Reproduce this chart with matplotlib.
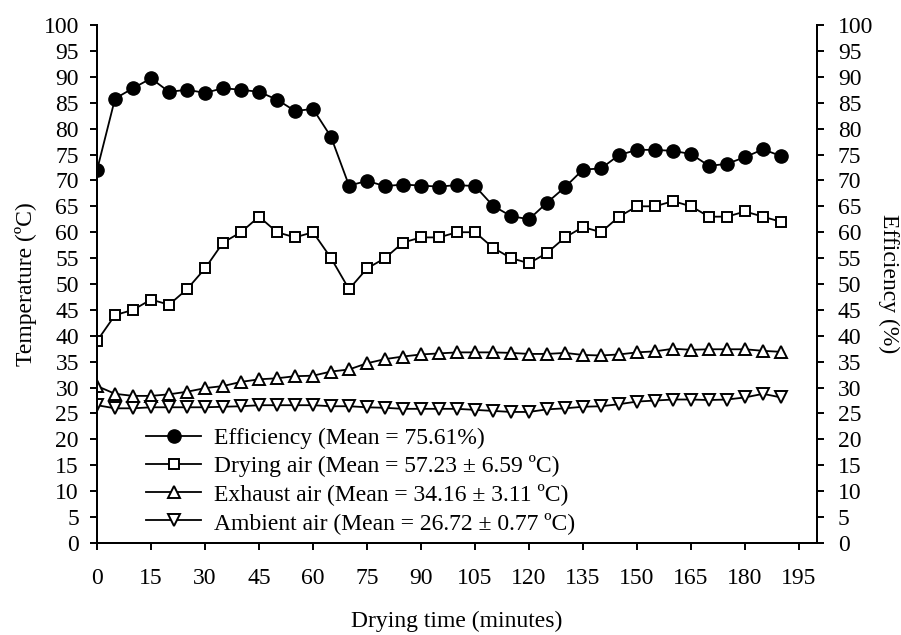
import matplotlib
matplotlib.use('Agg')
import matplotlib.pyplot as plt

plt.rcParams['font.family'] = ['Liberation Serif', 'DejaVu Serif']
plt.rcParams['mathtext.fontset'] = 'stix'

# drying time (minutes)
time_min = list(range(0, 195, 5))

efficiency = [72.0, 85.8, 87.8, 89.7, 87.1, 87.5, 86.9, 87.8, 87.5, 87.1,
              85.6, 83.4, 83.8, 78.4, 69.0, 69.9, 68.9, 69.2, 69.0, 68.8,
              69.1, 68.9, 65.1, 63.1, 62.5, 65.7, 68.7, 72.1, 72.3, 74.9,
              75.9, 75.9, 75.7, 75.1, 72.8, 73.2, 74.5, 76.0, 74.7]

drying_air = [39, 44, 45, 47, 46, 49, 53, 58, 60, 63,
              60, 59, 60, 55, 49, 53, 55, 58, 59, 59,
              60, 60, 57, 55, 54, 56, 59, 61, 60, 63,
              65, 65, 66, 65, 63, 63, 64, 63, 62]

exhaust_air = [30.3, 28.8, 28.4, 28.4, 28.7, 29.2, 29.9, 30.3, 31.1, 31.6,
               31.8, 32.2, 32.3, 33.1, 33.5, 34.7, 35.5, 36.0, 36.4, 36.6,
               36.8, 36.8, 36.8, 36.7, 36.5, 36.5, 36.7, 36.3, 36.2, 36.4,
               36.8, 37.0, 37.5, 37.3, 37.4, 37.4, 37.4, 37.1, 36.9]

ambient_air = [26.6, 26.0, 26.0, 26.2, 26.2, 26.2, 26.2, 26.3, 26.4, 26.6,
               26.6, 26.6, 26.6, 26.4, 26.4, 26.2, 26.1, 25.9, 25.9, 25.9,
               25.9, 25.7, 25.5, 25.3, 25.3, 25.8, 26.0, 26.3, 26.4, 26.8,
               27.3, 27.5, 27.7, 27.7, 27.6, 27.7, 28.1, 28.8, 28.1]

labels = ['Efficiency (Mean = 75.61%)',
          'Drying air (Mean = 57.23 ± 6.59 ºC)',
          'Exhaust air (Mean = 34.16 ± 3.11 ºC)',
          'Ambient air (Mean = 26.72 ± 0.77 ºC)']

tick_fs = 17
label_fs = 17
legend_fs = 17

fig = plt.figure(figsize=(9.01, 6.35), dpi=100)
ax = fig.add_axes([0.1077, 0.1449, 0.7991, 0.8157])
ax2 = ax.twinx()

lw = 1.3
l2, = ax.plot(time_min, drying_air, '-', color='black', lw=lw, marker='s',
              ms=7.5, mfc='white', mec='black', mew=1.4)
l3, = ax.plot(time_min, exhaust_air, '-', color='black', lw=lw, marker='^',
              ms=8.5, mfc='white', mec='black', mew=1.4)
l4, = ax.plot(time_min, ambient_air, '-', color='black', lw=lw, marker='v',
              ms=8.5, mfc='white', mec='black', mew=1.4)
l1, = ax2.plot(time_min, efficiency, '-', color='black', lw=lw, marker='o',
               ms=9.5, mfc='black', mec='black')

for a in (ax, ax2):
    a.set_xlim(0, 200)
    a.set_ylim(0, 100)
    a.set_yticks(range(0, 101, 5))
    a.spines['top'].set_visible(False)
    for s in a.spines.values():
        s.set_linewidth(1.4)
    a.tick_params(direction='out', length=5, width=1.4, labelsize=tick_fs, pad=8)

ax.set_xticks(range(0, 196, 15))
ax.tick_params(axis='x', pad=13)
ax2.tick_params(axis='y', pad=10)
ax.set_xlabel('Drying time (minutes)', fontsize=label_fs, labelpad=16)
ax.set_ylabel('Temperature (ºC)', fontsize=label_fs, labelpad=5)
ax2.set_ylabel('Efficiency (%)', fontsize=label_fs, rotation=270, labelpad=19)

ax.legend([l1, l2, l3, l4], labels, loc='lower left',
          bbox_to_anchor=(0.055, 0.0), frameon=False, fontsize=legend_fs,
          handlelength=2.33, handletextpad=0.55, labelspacing=0.26,
          borderaxespad=0.0)

fig.savefig('out.png', dpi=100)
